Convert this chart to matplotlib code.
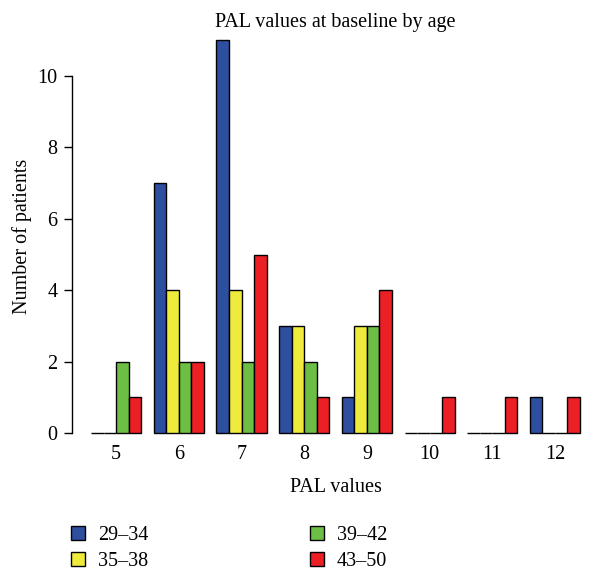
import numpy as np
import matplotlib.pyplot as plt
from matplotlib.patches import Patch

pal_values = ['5', '6', '7', '8', '9', '10', '11', '12']
age_groups = ['29\u201334', '35\u201338', '39\u201342', '43\u201350']
counts_29_34 = [0, 7, 11, 3, 1, 0, 0, 1]
counts_35_38 = [0, 4, 4, 3, 3, 0, 0, 0]
counts_39_42 = [2, 2, 2, 2, 3, 0, 0, 0]
counts_43_50 = [1, 2, 5, 1, 4, 1, 1, 1]
colors = ['#2E4FA0', '#EEEB3C', '#6DBE45', '#EC1F25']

plt.rcParams['font.family'] = ['Liberation Serif', 'DejaVu Serif']
plt.rcParams['font.size'] = 14.5

fig = plt.figure(figsize=(5.96, 5.71), dpi=100)
ax = fig.add_axes([0.12, 0.214, 0.886, 0.743])

series = [counts_29_34, counts_35_38, counts_39_42, counts_43_50]
n = len(pal_values)
group_left = 1 + 5 * np.arange(n)
for i, vals in enumerate(series):
    ax.bar(group_left + i, vals, width=1, align='edge', color=colors[i],
           edgecolor='black', linewidth=1.0)

ax.set_xlim(-0.56, 41.56)
ax.set_ylim(-0.44, 11.44)
ax.set_xticks(group_left + 2)
ax.set_xticklabels(pal_values)
ax.tick_params(axis='x', length=0, pad=-3)
ax.set_yticks([0, 2, 4, 6, 8, 10])
ax.tick_params(axis='y', length=6, width=1, pad=4)
for s in ['top', 'right', 'bottom']:
    ax.spines[s].set_visible(False)
ax.spines['left'].set_bounds(0, 10)
ax.spines['left'].set_linewidth(1)

ax.set_title('PAL values at baseline by age', fontsize=14.5, y=1.0, pad=-2)
ax.set_xlabel('PAL values', labelpad=10)
ax.set_ylabel('Number of patients', labelpad=4)

handles = [Patch(facecolor=c, edgecolor='black', linewidth=1) for c in colors]
fig.legend(handles, age_groups, ncol=2, loc='upper left',
           bbox_to_anchor=(0.119, 0.079), frameon=False, borderaxespad=0,
           handlelength=0.7, handleheight=0.7, handletextpad=0.65,
           columnspacing=8.0, labelspacing=0.36, borderpad=0)

fig.savefig('out.png', dpi=100)
